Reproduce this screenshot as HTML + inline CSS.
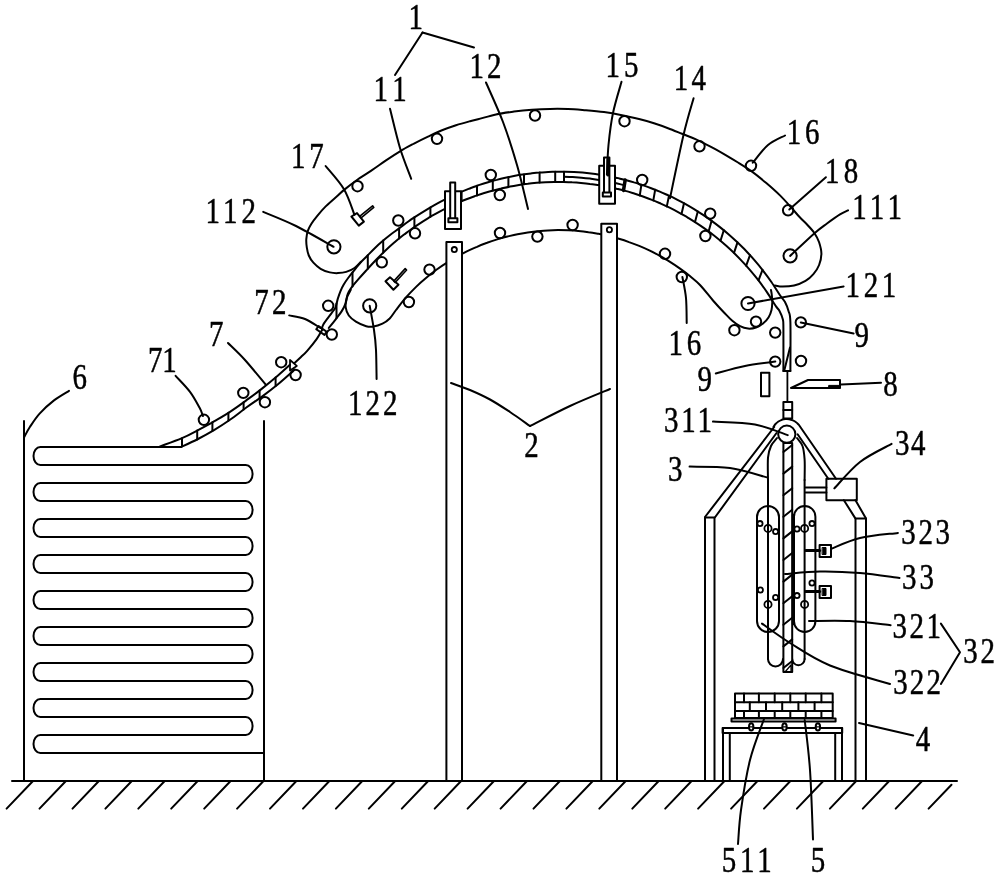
<!DOCTYPE html>
<html><head><meta charset="utf-8"><style>
html,body{margin:0;padding:0;background:#fff;}
svg{display:block;will-change:transform;}
text{font-family:"Liberation Serif",serif;fill:#000;stroke:#000;stroke-width:0.5px;}
</style></head><body>
<svg width="1000" height="880" viewBox="0 0 1000 880">
<rect width="1000" height="880" fill="#fff"/>
<g stroke="#000" fill="none" stroke-linecap="round" stroke-linejoin="round">
<line x1="12.0" y1="781.0" x2="957.0" y2="781.0" stroke-width="2.0"/>
<line x1="33.0" y1="781.0" x2="6.6" y2="808.6" stroke-width="2.0"/>
<line x1="65.9" y1="781.0" x2="39.5" y2="808.6" stroke-width="2.0"/>
<line x1="98.9" y1="781.0" x2="72.5" y2="808.6" stroke-width="2.0"/>
<line x1="131.8" y1="781.0" x2="105.4" y2="808.6" stroke-width="2.0"/>
<line x1="164.7" y1="781.0" x2="138.3" y2="808.6" stroke-width="2.0"/>
<line x1="197.7" y1="781.0" x2="171.2" y2="808.6" stroke-width="2.0"/>
<line x1="230.6" y1="781.0" x2="204.2" y2="808.6" stroke-width="2.0"/>
<line x1="263.5" y1="781.0" x2="237.1" y2="808.6" stroke-width="2.0"/>
<line x1="296.4" y1="781.0" x2="270.0" y2="808.6" stroke-width="2.0"/>
<line x1="329.4" y1="781.0" x2="303.0" y2="808.6" stroke-width="2.0"/>
<line x1="362.3" y1="781.0" x2="335.9" y2="808.6" stroke-width="2.0"/>
<line x1="395.2" y1="781.0" x2="368.8" y2="808.6" stroke-width="2.0"/>
<line x1="428.2" y1="781.0" x2="401.8" y2="808.6" stroke-width="2.0"/>
<line x1="461.1" y1="781.0" x2="434.7" y2="808.6" stroke-width="2.0"/>
<line x1="494.0" y1="781.0" x2="467.6" y2="808.6" stroke-width="2.0"/>
<line x1="527.0" y1="781.0" x2="500.6" y2="808.6" stroke-width="2.0"/>
<line x1="559.9" y1="781.0" x2="533.5" y2="808.6" stroke-width="2.0"/>
<line x1="592.8" y1="781.0" x2="566.4" y2="808.6" stroke-width="2.0"/>
<line x1="625.7" y1="781.0" x2="599.3" y2="808.6" stroke-width="2.0"/>
<line x1="658.7" y1="781.0" x2="632.3" y2="808.6" stroke-width="2.0"/>
<line x1="691.6" y1="781.0" x2="665.2" y2="808.6" stroke-width="2.0"/>
<line x1="724.5" y1="781.0" x2="698.1" y2="808.6" stroke-width="2.0"/>
<line x1="757.5" y1="781.0" x2="731.1" y2="808.6" stroke-width="2.0"/>
<line x1="790.4" y1="781.0" x2="764.0" y2="808.6" stroke-width="2.0"/>
<line x1="823.3" y1="781.0" x2="796.9" y2="808.6" stroke-width="2.0"/>
<line x1="856.2" y1="781.0" x2="829.9" y2="808.6" stroke-width="2.0"/>
<line x1="889.2" y1="781.0" x2="862.8" y2="808.6" stroke-width="2.0"/>
<line x1="922.1" y1="781.0" x2="895.7" y2="808.6" stroke-width="2.0"/>
<line x1="951.5" y1="784.7" x2="928.6" y2="808.6" stroke-width="2.0"/>
<line x1="24.0" y1="421.0" x2="24.0" y2="781.0" stroke-width="2.0"/>
<line x1="264.0" y1="421.0" x2="264.0" y2="781.0" stroke-width="2.0"/>
<path d="M181 447 L40.3 447 A6.8 9 0 0 0 40.3 465 L245.79999999999998 465 A6.8 9 0 0 1 245.79999999999998 483 L40.3 483 A6.8 9 0 0 0 40.3 501 L245.79999999999998 501 A6.8 9 0 0 1 245.79999999999998 519 L40.3 519 A6.8 9 0 0 0 40.3 537 L245.79999999999998 537 A6.8 9 0 0 1 245.79999999999998 555 L40.3 555 A6.8 9 0 0 0 40.3 573 L245.79999999999998 573 A6.8 9 0 0 1 245.79999999999998 591 L40.3 591 A6.8 9 0 0 0 40.3 609 L245.79999999999998 609 A6.8 9 0 0 1 245.79999999999998 627 L40.3 627 A6.8 9 0 0 0 40.3 645 L245.79999999999998 645 A6.8 9 0 0 1 245.79999999999998 663 L40.3 663 A6.8 9 0 0 0 40.3 681 L245.79999999999998 681 A6.8 9 0 0 1 245.79999999999998 699 L40.3 699 A6.8 9 0 0 0 40.3 717 L245.79999999999998 717 A6.8 9 0 0 1 245.79999999999998 735 L40.3 735 A6.8 9 0 0 0 40.3 753 L264 753" stroke-width="2.0" fill="none"/>
<path d="M159.6 446.6 C163.3 445.2 175.6 440.9 182.0 438.2 C188.4 435.5 192.7 433.0 198.0 430.2 C203.3 427.4 208.7 424.5 214.0 421.4 C219.3 418.3 224.7 415.3 230.0 411.8 C235.3 408.3 240.7 404.5 246.0 400.6 C251.3 396.7 256.7 392.8 262.0 388.6 C267.3 384.4 273.3 379.5 278.0 375.5 C282.7 371.5 288.0 366.6 290.0 364.8" stroke-width="2.0" fill="none"/>
<path d="M181.2 447.0 C184.0 445.7 192.5 441.8 198.0 439.0 C203.5 436.2 208.7 433.4 214.0 430.2 C219.3 427.0 224.7 423.5 230.0 419.8 C235.3 416.1 240.7 411.7 246.0 407.8 C251.3 403.9 256.7 400.5 262.0 396.6 C267.3 392.7 273.2 388.2 278.0 384.3 C282.8 380.4 288.2 375.5 291.0 373.0 C293.8 370.5 293.9 370.1 294.5 369.5" stroke-width="2.0" fill="none"/>
<line x1="182.0" y1="438.2" x2="182.0" y2="446.6" stroke-width="2.0"/>
<line x1="197.2" y1="430.6" x2="197.2" y2="439.4" stroke-width="2.0"/>
<line x1="212.4" y1="422.3" x2="212.4" y2="431.1" stroke-width="2.0"/>
<line x1="228.4" y1="412.8" x2="228.4" y2="420.8" stroke-width="2.0"/>
<line x1="243.6" y1="402.3" x2="243.6" y2="409.6" stroke-width="2.0"/>
<line x1="259.6" y1="390.4" x2="259.6" y2="398.3" stroke-width="2.0"/>
<line x1="275.6" y1="377.5" x2="275.6" y2="386.1" stroke-width="2.0"/>
<path d="M290.0 360.0 L296.8 365.9 L290.0 370.5 Z" stroke-width="1.8" fill="none"/>
<path d="M294.2 363.2 C295.3 362.2 298.8 359.1 301.0 357.0 C303.2 354.9 304.6 353.8 307.2 350.8 C309.8 347.8 314.3 342.3 316.8 338.8 C319.3 335.3 321.1 331.5 322.0 330.0" stroke-width="2.0" fill="none"/>
<rect x="-5" y="-2" width="10" height="4" transform="translate(321.5,330.5) rotate(35)" stroke-width="2" fill="none"/>
<path d="M322.0 330.0 C322.2 329.1 321.6 327.5 323.2 324.7 C324.8 321.9 329.3 316.3 331.4 313.4 C333.4 310.5 334.4 309.9 335.5 307.3 C336.6 304.8 337.1 300.8 338.0 298.1 C338.9 295.4 339.7 293.1 340.6 290.9 C341.5 288.7 342.3 287.0 343.6 284.8 C344.9 282.6 346.6 280.0 348.5 277.5 C350.4 275.0 352.7 272.2 354.8 269.6 C356.9 267.0 358.9 264.3 361.0 262.0 C363.1 259.7 365.0 258.0 367.3 255.7 C369.6 253.4 372.4 250.5 375.0 248.0 C377.6 245.5 380.5 242.9 383.2 240.6 C385.9 238.3 388.4 236.2 391.0 234.2 C393.6 232.2 396.5 230.3 399.1 228.4 C401.7 226.5 404.0 224.6 406.5 222.8 C409.0 221.0 410.3 219.9 413.9 217.6 C417.5 215.3 424.2 211.1 428.0 208.8 C431.8 206.5 433.7 205.4 436.6 203.8 C439.4 202.2 442.3 200.7 445.2 199.3 C448.0 197.8 450.9 196.5 453.8 195.1 C456.6 193.8 459.5 192.6 462.3 191.4 C465.2 190.2 468.1 189.1 470.9 188.0 C473.8 186.9 476.7 185.9 479.5 184.9 C482.4 184.0 485.2 183.1 488.1 182.2 C491.0 181.4 493.8 180.6 496.7 179.9 C499.5 179.1 502.4 178.4 505.3 177.8 C508.1 177.2 511.0 176.6 513.9 176.0 C516.7 175.5 519.6 175.0 522.4 174.6 C525.3 174.2 528.2 173.8 531.0 173.4 C533.9 173.1 536.7 172.8 539.6 172.6 C542.5 172.3 545.3 172.2 548.2 172.0 C551.1 171.9 553.9 171.8 556.8 171.7 C559.6 171.7 562.5 171.7 565.4 171.7 C568.2 171.8 571.1 171.9 574.0 172.0 C576.8 172.2 579.7 172.4 582.5 172.6 C585.4 172.9 588.3 173.2 591.1 173.5 C594.0 173.8 596.8 174.2 599.7 174.7 C602.6 175.1 605.4 175.6 608.3 176.1 C611.2 176.7 614.0 177.3 616.9 177.9 C619.7 178.6 622.6 179.2 625.5 180.0 C628.3 180.7 631.2 181.5 634.0 182.4 C636.9 183.2 639.8 184.2 642.6 185.1 C645.5 186.1 648.4 187.1 651.2 188.2 C654.1 189.3 656.9 190.4 659.8 191.6 C662.7 192.8 665.5 194.1 668.4 195.4 C671.3 196.7 674.1 198.1 677.0 199.6 C679.8 201.0 682.7 202.5 685.6 204.1 C688.4 205.7 691.3 207.4 694.1 209.1 C697.0 210.9 699.9 212.7 702.7 214.6 C705.6 216.5 708.5 218.5 711.3 220.6 C714.2 222.7 717.0 224.8 719.9 227.1 C722.8 229.4 725.6 231.7 728.5 234.2 C731.3 236.7 734.2 239.3 737.1 242.0 C739.9 244.7 742.8 247.5 745.7 250.5 C748.5 253.5 751.4 256.6 754.2 259.9 C757.1 263.2 760.0 266.7 762.8 270.3 C765.7 274.0 768.6 277.9 771.4 282.0 C774.3 286.2 777.7 291.9 780.0 295.3 C782.3 298.6 783.6 299.4 785.0 302.0 C786.4 304.6 787.6 307.6 788.5 311.0 C789.4 314.4 790.1 312.4 790.4 322.4 C790.7 332.4 790.4 362.9 790.4 371.0" stroke-width="2.0" fill="none"/>
<path d="M328.8 328.0 C329.9 326.6 333.4 322.4 335.5 319.6 C337.6 316.8 339.9 314.1 341.6 311.4 C343.3 308.7 344.7 306.1 345.7 303.2 C346.7 300.3 346.8 296.4 347.7 294.0 C348.6 291.6 349.1 290.9 350.8 288.5 C352.5 286.1 355.4 282.7 358.0 279.7 C360.6 276.7 363.1 273.9 366.2 270.5 C369.3 267.1 373.1 262.9 376.4 259.5 C379.7 256.1 382.9 252.9 386.0 250.0 C389.1 247.0 391.9 244.6 394.9 242.0 C397.8 239.5 400.8 237.1 403.7 234.8 C406.7 232.6 409.6 230.4 412.6 228.3 C415.5 226.2 418.5 224.2 421.5 222.3 C424.4 220.4 427.4 218.6 430.3 216.8 C433.3 215.1 436.2 213.4 439.2 211.8 C442.1 210.2 445.1 208.7 448.0 207.3 C451.0 205.9 454.0 204.5 456.9 203.2 C459.9 201.9 462.8 200.7 465.8 199.5 C468.7 198.3 471.7 197.2 474.6 196.2 C477.6 195.2 480.5 194.2 483.5 193.3 C486.5 192.4 489.4 191.5 492.4 190.7 C495.3 189.9 498.3 189.1 501.2 188.5 C504.2 187.8 507.1 187.1 510.1 186.6 C513.0 186.0 516.0 185.5 519.0 185.0 C521.9 184.5 524.9 184.1 527.8 183.8 C530.8 183.4 533.7 183.1 536.7 182.8 C539.6 182.6 542.6 182.4 545.5 182.2 C548.5 182.1 551.5 182.0 554.4 181.9 C557.4 181.9 560.3 181.9 563.3 181.9 C566.2 182.0 569.2 182.1 572.1 182.3 C575.1 182.4 578.0 182.6 581.0 182.9 C584.0 183.2 586.9 183.5 589.9 183.9 C592.8 184.2 595.8 184.7 598.7 185.1 C601.7 185.6 604.6 186.2 607.6 186.7 C610.5 187.3 613.5 188.0 616.5 188.7 C619.4 189.4 622.4 190.1 625.3 190.9 C628.3 191.7 631.2 192.6 634.2 193.5 C637.1 194.5 640.1 195.5 643.0 196.5 C646.0 197.6 649.0 198.7 651.9 199.9 C654.9 201.0 657.8 202.3 660.8 203.6 C663.7 204.9 666.7 206.3 669.6 207.7 C672.6 209.2 675.5 210.7 678.5 212.3 C681.5 213.9 684.4 215.6 687.4 217.3 C690.3 219.1 693.3 220.9 696.2 222.9 C699.2 224.8 702.1 226.8 705.1 228.9 C708.0 231.0 711.0 233.2 714.0 235.5 C716.9 237.8 719.9 240.3 722.8 242.8 C725.8 245.3 728.7 248.0 731.7 250.8 C734.6 253.6 737.6 256.5 740.5 259.6 C743.5 262.7 746.5 265.9 749.4 269.3 C752.4 272.7 755.3 276.3 758.3 280.2 C761.2 284.0 764.2 288.0 767.1 292.4 C770.1 296.8 773.9 303.3 776.0 306.4 C778.1 309.5 778.4 308.9 779.5 311.0 C780.6 313.1 782.1 316.4 782.8 319.2 C783.4 322.0 783.3 319.4 783.4 328.0 C783.5 336.6 783.4 363.8 783.4 371.0" stroke-width="2.0" fill="none"/>
<line x1="783.4" y1="371.0" x2="790.4" y2="371.0" stroke-width="2.0"/>
<line x1="784.4" y1="370.0" x2="790.0" y2="347.6" stroke-width="2.0"/>
<line x1="336.5" y1="303.6" x2="336.5" y2="318.3" stroke-width="2.0"/>
<line x1="352.5" y1="272.5" x2="352.5" y2="286.4" stroke-width="2.0"/>
<line x1="367.8" y1="255.2" x2="367.8" y2="268.8" stroke-width="2.0"/>
<line x1="383.2" y1="240.6" x2="383.2" y2="252.7" stroke-width="2.0"/>
<line x1="399.1" y1="228.4" x2="399.1" y2="238.6" stroke-width="2.0"/>
<line x1="414.4" y1="217.3" x2="414.4" y2="227.1" stroke-width="2.0"/>
<line x1="430.4" y1="207.4" x2="430.4" y2="216.8" stroke-width="2.0"/>
<line x1="461.6" y1="191.7" x2="461.6" y2="201.2" stroke-width="2.0"/>
<line x1="477.0" y1="185.8" x2="477.0" y2="195.4" stroke-width="2.0"/>
<line x1="492.8" y1="180.9" x2="492.8" y2="190.6" stroke-width="2.0"/>
<line x1="508.4" y1="177.2" x2="508.4" y2="186.9" stroke-width="2.0"/>
<line x1="524.0" y1="174.4" x2="524.0" y2="184.3" stroke-width="2.0"/>
<line x1="539.6" y1="172.6" x2="539.6" y2="182.6" stroke-width="2.0"/>
<line x1="555.2" y1="171.8" x2="555.2" y2="181.9" stroke-width="2.0"/>
<path d="M564.0 176.8 C565.5 176.9 569.8 177.0 572.7 177.1 C575.6 177.3 578.5 177.5 581.4 177.7 C584.3 178.0 587.2 178.3 590.1 178.6 C593.0 179.0 596.0 179.4 598.9 179.9 C601.8 180.3 604.7 180.8 607.6 181.4 C610.5 181.9 613.4 182.5 616.3 183.2 C619.2 183.9 623.5 185.0 625.0 185.4" stroke-width="2.0" fill="none"/>
<line x1="564.0" y1="171.7" x2="564.0" y2="182.0" stroke-width="2.0"/>
<line x1="641.4" y1="184.7" x2="639.8" y2="195.4" stroke-width="2.0"/>
<line x1="655.2" y1="189.7" x2="653.3" y2="200.4" stroke-width="2.0"/>
<line x1="669.0" y1="195.7" x2="666.8" y2="206.4" stroke-width="2.0"/>
<line x1="684.0" y1="203.3" x2="681.5" y2="214.0" stroke-width="2.0"/>
<line x1="697.8" y1="211.4" x2="695.0" y2="222.1" stroke-width="2.0"/>
<line x1="711.6" y1="220.8" x2="708.6" y2="231.4" stroke-width="2.0"/>
<line x1="723.8" y1="230.2" x2="720.5" y2="240.8" stroke-width="2.0"/>
<line x1="737.5" y1="242.4" x2="734.0" y2="252.9" stroke-width="2.0"/>
<line x1="750.0" y1="255.2" x2="746.2" y2="265.7" stroke-width="2.0"/>
<line x1="762.5" y1="269.9" x2="758.5" y2="280.4" stroke-width="2.0"/>
<line x1="625.2" y1="179.9" x2="623.5" y2="190.4" stroke-width="3.5"/>
<path d="M361.0 261.8 C359.9 262.8 357.0 266.3 354.5 268.0 C352.0 269.7 348.9 271.0 346.2 271.9 C343.4 272.8 340.7 273.0 338.0 273.1 C335.3 273.2 332.7 273.1 329.8 272.4 C326.9 271.7 323.3 270.4 320.6 268.8 C317.9 267.2 315.4 264.9 313.4 262.7 C311.4 260.5 309.9 258.1 308.8 255.5 C307.7 252.9 307.2 250.0 306.8 247.3 C306.4 244.6 306.1 241.8 306.3 239.1 C306.5 236.4 307.0 233.4 307.8 230.9 C308.6 228.4 309.8 226.4 311.4 223.8 C313.0 221.2 315.1 218.5 317.5 215.6 C319.9 212.7 322.6 209.5 325.7 206.4 C328.8 203.3 332.8 199.9 335.9 197.2 C339.0 194.4 340.4 192.9 344.1 189.9 C347.8 186.9 353.4 182.6 358.0 179.3 C362.6 176.0 367.3 173.3 372.0 170.2 C376.7 167.0 381.3 163.6 386.0 160.4 C390.7 157.2 395.3 154.1 400.0 151.3 C404.7 148.5 409.3 146.1 414.0 143.6 C418.7 141.1 423.3 138.8 428.0 136.6 C432.7 134.4 437.3 132.2 442.0 130.3 C446.7 128.4 451.3 126.7 456.0 125.2 C460.7 123.7 466.3 122.2 470.0 121.2 C473.7 120.2 473.7 120.4 478.0 119.3 C482.3 118.2 490.0 115.7 496.0 114.4 C502.0 113.1 508.0 112.4 514.0 111.6 C520.0 110.8 526.0 110.2 532.0 109.8 C538.0 109.3 544.0 109.0 550.0 108.9 C556.0 108.8 562.0 108.8 568.0 109.0 C574.0 109.2 580.0 109.8 586.0 110.3 C592.0 110.8 598.0 111.3 604.0 112.1 C610.0 112.9 616.0 114.0 622.0 115.2 C628.0 116.4 634.7 118.0 640.0 119.3 C645.3 120.6 649.3 121.8 654.0 123.3 C658.7 124.8 663.3 126.4 668.0 128.2 C672.7 129.9 677.3 131.9 682.0 133.8 C686.7 135.7 691.3 137.3 696.0 139.4 C700.7 141.5 705.3 144.0 710.0 146.4 C714.7 148.8 719.3 151.4 724.0 154.1 C728.7 156.8 733.3 159.6 738.0 162.5 C742.7 165.4 747.3 168.2 752.0 171.6 C756.7 175.0 761.3 178.8 766.0 182.8 C770.7 186.8 775.7 191.2 780.0 195.4 C784.3 199.6 788.5 204.5 791.8 208.2 C795.1 211.8 797.1 214.5 799.8 217.3 C802.4 220.1 805.2 222.5 807.7 225.2 C810.2 227.8 812.6 230.3 814.5 233.2 C816.4 236.0 818.0 238.9 819.1 242.3 C820.2 245.7 821.4 249.8 821.4 253.6 C821.4 257.4 820.4 261.6 819.1 265.0 C817.8 268.4 815.7 271.5 813.4 274.1 C811.1 276.8 808.7 279.0 805.5 280.9 C802.3 282.8 797.9 284.6 794.1 285.5 C790.3 286.4 785.9 286.6 782.7 286.6 C779.5 286.6 776.1 285.7 774.8 285.5" stroke-width="2.0" fill="none"/>
<path d="M350.8 289.9 C350.1 291.3 347.6 295.2 346.7 298.1 C345.8 301.0 345.3 304.4 345.7 307.3 C346.1 310.2 347.1 313.1 348.8 315.5 C350.5 317.9 353.0 319.8 355.9 321.6 C358.8 323.4 363.5 325.4 366.2 326.2 C368.9 327.0 369.6 327.1 372.3 326.7 C375.0 326.3 379.6 325.1 382.5 323.7 C385.4 322.3 387.4 320.8 389.7 318.5 C391.9 316.2 393.3 313.5 396.0 310.0 C398.7 306.5 402.6 301.3 406.0 297.4 C409.4 293.6 412.8 290.2 416.1 286.9 C419.5 283.6 422.9 280.6 426.3 277.8 C429.7 274.9 433.0 272.3 436.4 269.8 C439.8 267.3 443.2 265.0 446.6 262.9 C449.9 260.7 453.3 258.7 456.7 256.8 C460.1 254.9 463.4 253.1 466.8 251.4 C470.2 249.8 473.6 248.2 477.0 246.8 C480.3 245.3 483.7 244.0 487.1 242.8 C490.5 241.5 493.9 240.4 497.2 239.4 C500.6 238.3 504.0 237.4 507.4 236.5 C510.8 235.7 514.1 234.9 517.5 234.2 C520.9 233.6 524.3 233.0 527.7 232.5 C531.0 232.0 534.4 231.5 537.8 231.2 C541.2 230.9 544.6 230.6 547.9 230.4 C551.3 230.2 554.7 230.1 558.1 230.1 C561.4 230.1 564.8 230.2 568.2 230.3 C571.6 230.5 575.0 230.7 578.3 231.0 C581.7 231.3 585.1 231.7 588.5 232.2 C591.9 232.6 595.2 233.2 598.6 233.8 C602.0 234.5 605.4 235.2 608.8 236.0 C612.1 236.9 615.5 237.8 618.9 238.8 C622.3 239.8 625.7 240.9 629.0 242.1 C632.4 243.2 635.8 244.5 639.2 245.9 C642.6 247.3 645.9 248.8 649.3 250.4 C652.7 252.1 656.1 253.8 659.4 255.6 C662.8 257.5 666.2 259.4 669.6 261.6 C673.0 263.7 676.3 265.9 679.7 268.4 C683.1 270.8 686.5 273.3 689.9 276.1 C693.2 278.9 696.1 280.9 700.0 285.0 C703.9 289.0 709.0 295.9 713.0 300.5 C717.0 305.1 720.8 309.2 724.0 312.5 C727.2 315.8 729.3 318.2 732.0 320.5 C734.7 322.8 737.3 324.8 740.0 326.2 C742.7 327.6 745.3 328.4 748.0 328.6 C750.7 328.8 753.5 328.4 756.0 327.5 C758.5 326.6 760.9 325.2 763.0 323.5 C765.1 321.8 767.1 319.8 768.5 317.5 C769.9 315.2 770.9 312.6 771.5 310.0 C772.1 307.4 772.2 304.5 772.3 302.0 C772.3 299.5 772.0 297.0 771.8 295.0 C771.6 293.0 771.1 290.8 771.0 290.0" stroke-width="2.0" fill="none"/>
<circle cx="357.5" cy="186.2" r="5.2" stroke-width="2.0" fill="none"/>
<circle cx="437.0" cy="138.8" r="5.2" stroke-width="2.0" fill="none"/>
<circle cx="535.0" cy="115.5" r="5.2" stroke-width="2.0" fill="none"/>
<circle cx="624.5" cy="121.2" r="5.2" stroke-width="2.0" fill="none"/>
<circle cx="699.5" cy="146.3" r="5.2" stroke-width="2.0" fill="none"/>
<circle cx="751.0" cy="165.8" r="5.2" stroke-width="2.0" fill="none"/>
<circle cx="788.1" cy="210.3" r="5.2" stroke-width="2.0" fill="none"/>
<circle cx="398.3" cy="220.5" r="5.2" stroke-width="2.0" fill="none"/>
<circle cx="490.8" cy="175.0" r="5.2" stroke-width="2.0" fill="none"/>
<circle cx="642.2" cy="180.0" r="5.2" stroke-width="2.0" fill="none"/>
<circle cx="710.2" cy="213.6" r="5.2" stroke-width="2.0" fill="none"/>
<circle cx="415.0" cy="233.3" r="5.2" stroke-width="2.0" fill="none"/>
<circle cx="381.8" cy="262.3" r="5.2" stroke-width="2.0" fill="none"/>
<circle cx="429.5" cy="269.6" r="5.2" stroke-width="2.0" fill="none"/>
<circle cx="499.8" cy="195.0" r="5.2" stroke-width="2.0" fill="none"/>
<circle cx="705.4" cy="236.0" r="5.2" stroke-width="2.0" fill="none"/>
<circle cx="408.9" cy="302.0" r="5.2" stroke-width="2.0" fill="none"/>
<circle cx="500.0" cy="233.0" r="5.2" stroke-width="2.0" fill="none"/>
<circle cx="537.4" cy="236.6" r="5.2" stroke-width="2.0" fill="none"/>
<circle cx="572.6" cy="225.0" r="5.2" stroke-width="2.0" fill="none"/>
<circle cx="665.0" cy="253.8" r="5.2" stroke-width="2.0" fill="none"/>
<circle cx="681.8" cy="277.0" r="5.2" stroke-width="2.0" fill="none"/>
<circle cx="756.0" cy="321.6" r="5.2" stroke-width="2.0" fill="none"/>
<circle cx="734.4" cy="330.2" r="5.2" stroke-width="2.0" fill="none"/>
<circle cx="775.2" cy="332.6" r="5.2" stroke-width="2.0" fill="none"/>
<circle cx="800.8" cy="322.4" r="5.2" stroke-width="2.0" fill="none"/>
<circle cx="775.2" cy="361.6" r="5.2" stroke-width="2.0" fill="none"/>
<circle cx="801.0" cy="361.0" r="5.2" stroke-width="2.0" fill="none"/>
<circle cx="328.2" cy="305.8" r="5.2" stroke-width="2.0" fill="none"/>
<circle cx="331.8" cy="334.5" r="5.2" stroke-width="2.0" fill="none"/>
<circle cx="203.9" cy="419.8" r="5.2" stroke-width="2.0" fill="none"/>
<circle cx="243.3" cy="392.9" r="5.2" stroke-width="2.0" fill="none"/>
<circle cx="264.9" cy="402.2" r="5.2" stroke-width="2.0" fill="none"/>
<circle cx="281.2" cy="362.2" r="5.2" stroke-width="2.0" fill="none"/>
<circle cx="295.6" cy="375.0" r="5.2" stroke-width="2.0" fill="none"/>
<circle cx="333.9" cy="246.8" r="6.6" stroke-width="2.0" fill="none"/>
<circle cx="790.1" cy="255.9" r="6.6" stroke-width="2.0" fill="none"/>
<circle cx="369.7" cy="305.8" r="6.6" stroke-width="2.0" fill="none"/>
<circle cx="748.0" cy="303.5" r="6.6" stroke-width="2.0" fill="none"/>
<rect x="445.0" y="191.2" width="16.0" height="37.8" stroke-width="2.0" fill="#fff"/>
<rect x="450.2" y="182.4" width="5.0" height="36.6" stroke-width="2.0" fill="#fff"/>
<rect x="448.4" y="218.2" width="9.0" height="4.0" stroke-width="2.0" fill="#fff"/>
<rect x="599.2" y="165.8" width="15.8" height="38.0" stroke-width="2.0" fill="#fff"/>
<rect x="604.0" y="157.5" width="5.4" height="35.5" stroke-width="2.0" fill="#fff"/>
<rect x="602.8" y="192.6" width="8.2" height="4.0" stroke-width="2.0" fill="#fff"/>
<line x1="608.0" y1="159.0" x2="608.0" y2="175.0" stroke-width="3"/>
<path d="M351.4 216.5 L357.0 213.1 L363.9 221.6 L358.8 225.6 Z" stroke-width="2.0" fill="#fff"/>
<path d="M361.1 217.8 L373.8 207.4 L372.6 205.8 L359.9 216.2 Z" stroke-width="1.6" fill="none"/>
<path d="M385.5 281.3 L390.0 277.3 L398.5 284.7 L393.4 289.8 Z" stroke-width="2.0" fill="#fff"/>
<path d="M395.2 282.5 L406.6 270.0 L405.2 268.6 L393.8 281.1 Z" stroke-width="1.6" fill="none"/>
<rect x="446.4" y="242.0" width="15.6" height="539.0" stroke-width="2.0" fill="#fff"/>
<circle cx="454.3" cy="249.6" r="2.6" stroke-width="1.8" fill="none"/>
<rect x="601.3" y="223.8" width="15.7" height="557.2" stroke-width="2.0" fill="#fff"/>
<circle cx="609.4" cy="229.8" r="2.6" stroke-width="1.8" fill="none"/>
<path d="M705 781 L705 517 L774.2 427 L773.4 427.1 C773.7 426.6 774.7 424.9 775.5 424.0 C776.4 423.1 777.4 422.2 778.4 421.5 C779.5 420.8 780.6 420.3 781.8 419.8 C783.0 419.4 784.2 419.2 785.5 419.1 C786.7 418.9 788.0 419.0 789.2 419.2 C790.5 419.4 791.7 419.8 792.9 420.3 C794.0 420.8 795.1 421.4 796.1 422.2 C797.1 422.9 798.3 424.4 798.8 424.8 L836 478.8" stroke-width="2" fill="none"/>
<path d="M776.5 433.0 L714.5 518.0 L714.5 781.0" stroke-width="2.0" fill="none"/>
<line x1="705.0" y1="517.5" x2="714.5" y2="517.5" stroke-width="2.0"/>
<path d="M797.6 434.2 L828.3 478.8" stroke-width="2.0" fill="none"/>
<rect x="826.4" y="478.8" width="30.4" height="21.4" stroke-width="2.0" fill="none"/>
<path d="M843.9 500.2 L855.5 518.6 L855.5 781.0" stroke-width="2.0" fill="none"/>
<path d="M855.5 500.2 L866.0 518.6 L866.0 781.0" stroke-width="2.0" fill="none"/>
<line x1="855.5" y1="518.6" x2="866.0" y2="518.6" stroke-width="2.0"/>
<line x1="805.6" y1="487.6" x2="826.4" y2="487.6" stroke-width="2.0"/>
<line x1="805.6" y1="492.5" x2="826.4" y2="492.5" stroke-width="2.0"/>
<line x1="787.4" y1="371.0" x2="787.4" y2="402.0" stroke-width="1.8"/>
<rect x="783.4" y="402.0" width="8.8" height="16.5" stroke-width="2.0" fill="none"/>
<line x1="783.4" y1="410.0" x2="792.2" y2="410.0" stroke-width="2.0"/>
<path d="M777.0 438.0 C776.0 439.3 772.5 442.7 771.0 446.0 C769.5 449.3 768.5 451.9 768.0 457.6 C767.5 463.3 768.0 476.3 768.0 480.0" stroke-width="2.0" fill="none"/>
<line x1="768.0" y1="480.0" x2="768.0" y2="659.0" stroke-width="2.0"/>
<path d="M768 659 A7.5 7.5 0 0 0 783 659" stroke-width="2" fill="none"/>
<path d="M797.0 438.0 C797.9 439.3 801.2 442.4 802.5 446.0 C803.8 449.6 804.2 453.7 804.6 459.4 C805.0 465.1 804.6 476.6 804.6 480.0" stroke-width="2.0" fill="none"/>
<line x1="804.6" y1="480.0" x2="804.6" y2="659.0" stroke-width="2.0"/>
<path d="M792.2 659 A6.2 6.2 0 0 0 804.6 659" stroke-width="2" fill="none"/>
<rect x="783.4" y="443.0" width="8.8" height="229.0" stroke-width="2.0" fill="#fff"/>
<line x1="783.4" y1="452.0" x2="792.2" y2="445.0" stroke-width="2.0"/>
<line x1="783.4" y1="473.6" x2="792.2" y2="466.6" stroke-width="2.0"/>
<line x1="783.4" y1="495.2" x2="792.2" y2="488.2" stroke-width="2.0"/>
<line x1="783.4" y1="516.8" x2="792.2" y2="509.8" stroke-width="2.0"/>
<line x1="783.4" y1="538.4" x2="792.2" y2="531.4" stroke-width="2.0"/>
<line x1="783.4" y1="560.0" x2="792.2" y2="553.0" stroke-width="2.0"/>
<line x1="783.4" y1="581.6" x2="792.2" y2="574.6" stroke-width="2.0"/>
<line x1="783.4" y1="603.2" x2="792.2" y2="596.2" stroke-width="2.0"/>
<line x1="783.4" y1="624.8" x2="792.2" y2="617.8" stroke-width="2.0"/>
<line x1="783.4" y1="646.4" x2="792.2" y2="639.4" stroke-width="2.0"/>
<line x1="783.4" y1="668.0" x2="792.2" y2="661.0" stroke-width="2.0"/>
<path d="M785.0 672.0 L791.0 665.0 L791.0 672.0 Z" stroke-width="1.2" fill="none"/>
<circle cx="786.8" cy="434.2" r="8.6" stroke-width="2.0" fill="#fff"/>
<rect x="757" y="506" width="22" height="126" rx="11" ry="11" stroke-width="2" fill="none"/>
<rect x="794" y="506" width="21.4" height="126" rx="10.7" ry="10.7" stroke-width="2" fill="none"/>
<line x1="793.0" y1="515.0" x2="793.0" y2="624.0" stroke-width="2.5"/>
<circle cx="760.0" cy="523.6" r="2.6" stroke-width="1.8" fill="none"/>
<circle cx="768.0" cy="528.4" r="3.6" stroke-width="1.8" fill="none"/>
<circle cx="775.6" cy="531.6" r="2.6" stroke-width="1.8" fill="none"/>
<circle cx="760.4" cy="590.0" r="2.6" stroke-width="1.8" fill="none"/>
<circle cx="775.6" cy="597.4" r="2.6" stroke-width="1.8" fill="none"/>
<circle cx="768.0" cy="604.4" r="3.6" stroke-width="1.8" fill="none"/>
<circle cx="797.0" cy="529.0" r="2.6" stroke-width="1.8" fill="none"/>
<circle cx="804.6" cy="528.4" r="3.6" stroke-width="1.8" fill="none"/>
<circle cx="812.0" cy="523.6" r="2.6" stroke-width="1.8" fill="none"/>
<circle cx="812.0" cy="583.0" r="2.6" stroke-width="1.8" fill="none"/>
<circle cx="797.0" cy="595.6" r="2.6" stroke-width="1.8" fill="none"/>
<circle cx="804.6" cy="604.4" r="3.6" stroke-width="1.8" fill="none"/>
<rect x="819.6" y="545.0" width="11.4" height="12.0" stroke-width="2.0" fill="none"/>
<rect x="822.5" y="547.5" width="3.5" height="7.0" stroke-width="1" fill="#000"/>
<line x1="805.6" y1="550.5" x2="819.6" y2="550.5" stroke-width="3"/>
<rect x="819.6" y="586.0" width="11.4" height="12.0" stroke-width="2.0" fill="none"/>
<rect x="822.5" y="588.5" width="3.5" height="7.0" stroke-width="1" fill="#000"/>
<line x1="805.6" y1="591.5" x2="819.6" y2="591.5" stroke-width="3"/>
<path d="M791.0 388.0 L808.0 380.0 L840.0 380.0 L840.0 388.0 Z" stroke-width="2.0" fill="none"/>
<rect x="829.0" y="385.4" width="11.0" height="3.0" stroke-width="1" fill="#000"/>
<rect x="761.0" y="372.8" width="8.4" height="23.5" stroke-width="2.0" fill="none"/>
<rect x="735.0" y="693.4" width="97.7" height="24.7" stroke-width="2.0" fill="none"/>
<line x1="735.0" y1="702.3" x2="832.7" y2="702.3" stroke-width="2.0"/>
<line x1="735.0" y1="711.1" x2="832.7" y2="711.1" stroke-width="2.0"/>
<line x1="744.0" y1="693.4" x2="744.0" y2="702.3" stroke-width="2.0"/>
<line x1="744.0" y1="711.1" x2="744.0" y2="718.1" stroke-width="2.0"/>
<line x1="758.9" y1="693.4" x2="758.9" y2="702.3" stroke-width="2.0"/>
<line x1="758.9" y1="711.1" x2="758.9" y2="718.1" stroke-width="2.0"/>
<line x1="774.7" y1="693.4" x2="774.7" y2="702.3" stroke-width="2.0"/>
<line x1="774.7" y1="711.1" x2="774.7" y2="718.1" stroke-width="2.0"/>
<line x1="790.3" y1="693.4" x2="790.3" y2="702.3" stroke-width="2.0"/>
<line x1="790.3" y1="711.1" x2="790.3" y2="718.1" stroke-width="2.0"/>
<line x1="805.7" y1="693.4" x2="805.7" y2="702.3" stroke-width="2.0"/>
<line x1="805.7" y1="711.1" x2="805.7" y2="718.1" stroke-width="2.0"/>
<line x1="821.4" y1="693.4" x2="821.4" y2="702.3" stroke-width="2.0"/>
<line x1="821.4" y1="711.1" x2="821.4" y2="718.1" stroke-width="2.0"/>
<line x1="749.8" y1="702.3" x2="749.8" y2="711.1" stroke-width="2.0"/>
<line x1="766.0" y1="702.3" x2="766.0" y2="711.1" stroke-width="2.0"/>
<line x1="782.2" y1="702.3" x2="782.2" y2="711.1" stroke-width="2.0"/>
<line x1="798.4" y1="702.3" x2="798.4" y2="711.1" stroke-width="2.0"/>
<line x1="814.6" y1="702.3" x2="814.6" y2="711.1" stroke-width="2.0"/>
<rect x="731.5" y="718.4" width="104.1" height="3.2" stroke-width="2.0" fill="none"/>
<rect x="722.6" y="727.9" width="119.6" height="5.0" stroke-width="2.0" fill="#fff"/>
<line x1="723.0" y1="727.9" x2="723.0" y2="781.0" stroke-width="2.0"/>
<line x1="729.8" y1="732.9" x2="729.8" y2="781.0" stroke-width="2.0"/>
<line x1="835.2" y1="732.9" x2="835.2" y2="781.0" stroke-width="2.0"/>
<line x1="842.0" y1="727.9" x2="842.0" y2="781.0" stroke-width="2.0"/>
<ellipse cx="751.2" cy="726.9" rx="2.2" ry="3.6" stroke-width="2.0" fill="#fff"/>
<line x1="749.7" y1="726.9" x2="752.7" y2="726.9" stroke-width="1.2"/>
<ellipse cx="784.5" cy="726.9" rx="2.2" ry="3.6" stroke-width="2.0" fill="#fff"/>
<line x1="783.0" y1="726.9" x2="786.0" y2="726.9" stroke-width="1.2"/>
<ellipse cx="817.9" cy="726.9" rx="2.2" ry="3.6" stroke-width="2.0" fill="#fff"/>
<line x1="816.4" y1="726.9" x2="819.4" y2="726.9" stroke-width="1.2"/>
<path d="M422.5 32.5 L395.0 75.0" stroke-width="2" fill="none"/>
<path d="M422.5 32.5 L474.0 47.5" stroke-width="2" fill="none"/>
<path d="M390.0 108.8 C391.7 115.3 396.5 136.3 400.0 148.0 C403.5 159.7 409.4 173.6 411.2 178.8" stroke-width="2" fill="none"/>
<path d="M486.0 82.5 C488.8 89.1 497.8 108.2 503.0 122.0 C508.2 135.8 512.8 150.5 517.0 165.0 C521.2 179.5 526.2 201.7 528.0 209.0" stroke-width="2" fill="none"/>
<path d="M621.5 81.8 C620.1 87.0 615.2 102.5 613.0 113.0 C610.8 123.5 609.5 134.8 608.5 145.0 C607.5 155.2 607.2 169.6 606.9 174.5" stroke-width="2" fill="none"/>
<path d="M693.6 98.2 C691.9 104.3 687.4 118.3 683.5 135.0 C679.6 151.7 672.2 187.7 670.0 198.2" stroke-width="2" fill="none"/>
<path d="M785.0 135.5 C782.2 137.1 773.4 140.5 768.0 145.0 C762.6 149.5 755.3 159.8 752.8 162.7" stroke-width="2" fill="none"/>
<path d="M825.9 177.2 L789.3 209.5" stroke-width="2" fill="none"/>
<path d="M848.0 210.3 C846.7 211.0 843.5 212.2 840.0 214.4 C836.5 216.6 831.2 220.4 827.0 223.5 C822.8 226.6 820.6 227.8 814.5 233.2 C808.4 238.6 794.2 252.1 790.1 255.9" stroke-width="2" fill="none"/>
<path d="M843.6 286.4 L748.0 303.5" stroke-width="2" fill="none"/>
<path d="M853.6 333.6 L800.8 322.4" stroke-width="2" fill="none"/>
<path d="M715.8 373.5 C720.7 372.2 735.1 368.0 745.0 366.0 C754.9 364.0 770.2 362.3 775.3 361.6" stroke-width="2" fill="none"/>
<path d="M686.7 323.1 C686.6 318.9 686.7 305.7 686.0 298.0 C685.3 290.3 683.0 280.5 682.4 277.0" stroke-width="2" fill="none"/>
<path d="M841.0 384.5 L881.0 382.7" stroke-width="2" fill="none"/>
<path d="M713.0 421.6 C720.0 422.1 742.5 422.2 755.0 424.5 C767.5 426.8 782.2 433.3 787.7 435.1" stroke-width="2" fill="none"/>
<path d="M689.6 466.6 C696.3 466.8 717.1 466.2 730.0 468.0 C742.9 469.8 760.8 475.8 767.0 477.4" stroke-width="2" fill="none"/>
<path d="M891.6 443.9 C886.3 446.9 869.5 454.6 860.0 462.0 C850.5 469.4 838.6 484.0 834.3 488.4" stroke-width="2" fill="none"/>
<path d="M897.9 532.9 C891.6 533.8 871.1 535.4 860.0 538.0 C848.9 540.6 835.9 547.0 831.1 548.8" stroke-width="2" fill="none"/>
<path d="M785.0 574.0 C790.8 573.6 807.5 571.7 820.0 571.5 C832.5 571.3 846.8 571.9 860.0 573.0 C873.2 574.1 892.9 577.2 899.5 578.0" stroke-width="2" fill="none"/>
<path d="M809.0 621.0 C815.8 621.0 836.4 620.3 850.0 621.0 C863.6 621.7 883.8 624.5 890.6 625.2" stroke-width="2" fill="none"/>
<path d="M762.0 623.6 C766.7 626.8 778.7 636.0 790.0 643.0 C801.3 650.0 813.3 658.7 830.0 665.5 C846.7 672.3 880.0 680.9 890.0 684.0" stroke-width="2" fill="none"/>
<path d="M940.9 623.6 L960.0 652.2 L940.9 684.0" stroke-width="2" fill="none"/>
<path d="M859.0 723.0 L913.2 735.5" stroke-width="2" fill="none"/>
<path d="M764.0 719.0 C761.7 725.8 753.8 744.8 750.0 760.0 C746.2 775.2 743.0 796.0 741.0 810.0 C739.0 824.0 738.5 838.3 738.0 844.0" stroke-width="2" fill="none"/>
<path d="M804.7 720.0 C805.6 728.3 808.6 750.1 810.0 770.0 C811.4 789.9 812.5 827.8 813.0 839.4" stroke-width="2" fill="none"/>
<path d="M451.0 383.0 C454.2 384.2 463.5 387.2 470.0 390.0 C476.5 392.8 483.3 395.8 490.0 399.5 C496.7 403.2 503.3 407.6 510.0 412.0 C516.7 416.4 526.7 423.7 530.0 426.0" stroke-width="2" fill="none"/>
<path d="M530.0 426.0 C536.7 422.7 556.7 412.2 570.0 406.0 C583.3 399.8 603.3 391.8 610.0 389.0" stroke-width="2" fill="none"/>
<path d="M69.0 390.8 C66.5 392.4 58.9 396.6 54.0 400.4 C49.1 404.2 43.6 409.2 39.6 413.6 C35.6 418.0 32.5 423.0 30.0 426.8 C27.5 430.6 25.5 434.8 24.6 436.4" stroke-width="2" fill="none"/>
<path d="M228.0 343.0 C230.8 345.8 238.7 353.0 245.0 360.0 C251.3 367.0 262.5 380.8 266.0 385.0" stroke-width="2" fill="none"/>
<path d="M175.6 375.8 C178.0 378.5 186.0 386.5 190.0 391.8 C194.0 397.1 197.4 403.8 199.6 407.8 C201.8 411.8 202.4 414.6 203.0 416.0" stroke-width="2" fill="none"/>
<path d="M289.2 315.4 C291.8 316.0 299.8 316.9 305.0 319.0 C310.2 321.1 317.8 326.5 320.4 328.0" stroke-width="2" fill="none"/>
<path d="M263.2 211.9 C268.7 214.2 284.3 220.2 296.0 226.0 C307.7 231.8 327.3 243.3 333.6 246.8" stroke-width="2" fill="none"/>
<path d="M325.6 166.0 C328.7 169.9 339.2 181.1 344.0 189.2 C348.8 197.3 352.7 210.5 354.4 214.8" stroke-width="2" fill="none"/>
<path d="M369.7 305.8 C370.4 309.8 372.9 322.6 374.0 330.0 C375.1 337.4 375.6 341.8 376.0 350.0 C376.4 358.2 376.5 374.2 376.6 379.1" stroke-width="2" fill="none"/>
<text transform="translate(408.4,29.0) scale(0.82,1)" font-size="35.3" letter-spacing="0.00">1</text>
<text transform="translate(373.4,101.0) scale(0.82,1)" font-size="35.3" letter-spacing="6.60">11</text>
<text transform="translate(469.4,77.5) scale(0.82,1)" font-size="35.3" letter-spacing="3.96">12</text>
<text transform="translate(605.6,77.3) scale(0.82,1)" font-size="35.3" letter-spacing="4.78">15</text>
<text transform="translate(673.8,90.0) scale(0.82,1)" font-size="35.3" letter-spacing="3.89">14</text>
<text transform="translate(786.7,144.0) scale(0.82,1)" font-size="35.3" letter-spacing="4.55">16</text>
<text transform="translate(825.0,183.1) scale(0.82,1)" font-size="35.3" letter-spacing="5.14">18</text>
<text transform="translate(852.2,218.8) scale(0.82,1)" font-size="35.3" letter-spacing="5.12">111</text>
<text transform="translate(845.6,297.3) scale(0.82,1)" font-size="35.3" letter-spacing="4.40">121</text>
<text transform="translate(854.6,347.3) scale(0.82,1)" font-size="35.3" letter-spacing="0.00">9</text>
<text transform="translate(668.4,354.6) scale(0.82,1)" font-size="35.3" letter-spacing="4.79">16</text>
<text transform="translate(697.4,391.0) scale(0.82,1)" font-size="35.3" letter-spacing="0.00">9</text>
<text transform="translate(883.3,395.5) scale(0.82,1)" font-size="35.3" letter-spacing="0.00">8</text>
<text transform="translate(291.0,168.1) scale(0.82,1)" font-size="35.3" letter-spacing="4.67">17</text>
<text transform="translate(205.4,222.8) scale(0.82,1)" font-size="35.3" letter-spacing="4.99">112</text>
<text transform="translate(254.3,314.2) scale(0.82,1)" font-size="35.3" letter-spacing="4.06">72</text>
<text transform="translate(209.1,346.0) scale(0.82,1)" font-size="35.3" letter-spacing="0.00">7</text>
<text transform="translate(148.1,372.0) scale(0.82,1)" font-size="35.3" letter-spacing="-0.40">71</text>
<text transform="translate(72.5,389.0) scale(0.82,1)" font-size="35.3" letter-spacing="0.00">6</text>
<text transform="translate(347.9,414.9) scale(0.82,1)" font-size="35.3" letter-spacing="3.77">122</text>
<text transform="translate(524.3,457.0) scale(0.82,1)" font-size="35.3" letter-spacing="0.00">2</text>
<text transform="translate(663.9,431.5) scale(0.82,1)" font-size="35.3" letter-spacing="3.52">311</text>
<text transform="translate(668.0,481.0) scale(0.82,1)" font-size="35.3" letter-spacing="0.00">3</text>
<text transform="translate(894.9,455.0) scale(0.82,1)" font-size="35.3" letter-spacing="1.99">34</text>
<text transform="translate(901.3,544.0) scale(0.82,1)" font-size="35.3" letter-spacing="3.22">323</text>
<text transform="translate(901.9,588.6) scale(0.82,1)" font-size="35.3" letter-spacing="3.97">33</text>
<text transform="translate(892.4,637.9) scale(0.82,1)" font-size="35.3" letter-spacing="3.21">321</text>
<text transform="translate(893.3,693.5) scale(0.82,1)" font-size="35.3" letter-spacing="2.57">322</text>
<text transform="translate(963.3,663.3) scale(0.82,1)" font-size="35.3" letter-spacing="3.28">32</text>
<text transform="translate(915.7,751.0) scale(0.82,1)" font-size="35.3" letter-spacing="0.00">4</text>
<text transform="translate(721.8,872.0) scale(0.82,1)" font-size="35.3" letter-spacing="4.61">511</text>
<text transform="translate(810.7,872.0) scale(0.82,1)" font-size="35.3" letter-spacing="0.00">5</text>
</g>
</svg>
</body></html>
